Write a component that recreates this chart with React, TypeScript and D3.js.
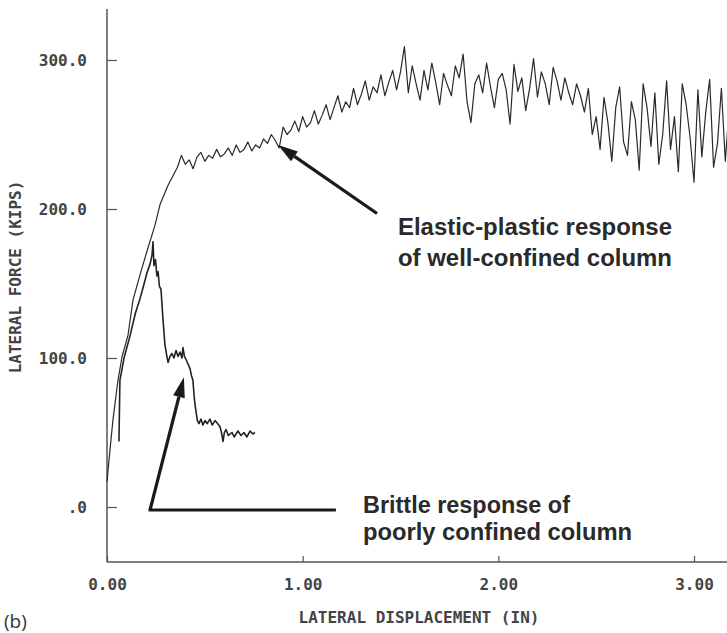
import React, { useEffect, useRef } from 'react';
import * as d3 from 'd3';

// axis ticks
const xTicks = [0, 1, 2, 3];
const xTickLabels = ['0.00', '1.00', '2.00', '3.00'];
const yTicks = [0, 100, 200, 300];
const yTickLabels = ['.0', '100.0', '200.0', '300.0'];

// well-confined column: initial loading branch [displacement (in), force (kips)]
const elasticRise: [number, number][] = [
  [0.0, 17], [0.015, 38], [0.03, 58], [0.056, 85], [0.077, 101], [0.107, 115],
  [0.133, 139], [0.169, 156], [0.205, 172], [0.245, 189], [0.271, 203], [0.312, 216],
];

// well-confined column: post-yield record, sampled every 0.02 in starting at 0.36 in
const elasticStart = 0.36;
const elasticStep = 0.02;
const elasticForce = [
  228, 236, 230, 233, 227, 235, 238, 232, 236, 234, 240, 235, 237, 241, 236, 243, 238, 240, 245, 239,
  243, 241, 247, 244, 250, 246, 241,
  255, 250, 253, 259, 252, 262, 255, 258, 266, 257, 263, 270, 260, 268, 276, 265, 272, 268, 281, 270,
  277, 286, 273, 282, 278, 290, 276, 285, 293, 280,
  292, 309, 278, 296, 284, 273, 293, 280, 298, 285, 270, 291, 283, 276, 296, 288, 304, 272, 258, 284,
  290, 278, 298, 282, 268, 287, 291, 280, 257, 297, 279, 288, 266, 281, 301, 275, 292, 284, 270, 295,
  286, 273, 288, 278, 270, 284,
  276, 265, 281, 250, 262, 240, 275, 258, 232, 268, 282, 245, 236, 272, 260, 226, 284, 268, 242, 278,
  230, 250, 286, 240, 262, 225, 284, 270, 248, 218, 280, 235, 265, 287, 228, 244, 281, 232, 268,
];

// poorly confined column [displacement (in), force (kips)]
const brittle: [number, number][] = [
  [0.061, 44], [0.066, 85], [0.087, 100], [0.118, 115], [0.145, 130], [0.169, 140], [0.19, 150],
  [0.204, 157], [0.22, 163], [0.23, 169], [0.235, 178], [0.24, 162], [0.248, 166], [0.255, 155],
  [0.261, 158], [0.268, 148], [0.276, 146], [0.286, 126], [0.296, 109], [0.305, 102], [0.312, 97],
  [0.322, 101], [0.332, 103], [0.342, 100], [0.353, 105], [0.363, 101], [0.373, 104], [0.383, 100],
  [0.388, 107], [0.396, 101], [0.404, 99], [0.414, 96], [0.424, 93], [0.432, 88], [0.439, 85],
  [0.447, 72], [0.455, 64], [0.462, 58], [0.47, 56], [0.48, 59], [0.49, 55], [0.501, 58], [0.512, 56],
  [0.526, 59], [0.538, 55], [0.552, 58], [0.565, 56], [0.577, 54], [0.585, 50], [0.593, 44],
  [0.6, 50], [0.608, 52], [0.62, 48], [0.639, 50], [0.65, 47], [0.669, 51], [0.685, 48], [0.7, 50],
  [0.715, 47], [0.731, 51], [0.745, 49], [0.756, 50],
];

export default function App() {
  const svgRef = useRef<SVGSVGElement>(null);

  useEffect(() => {
    if (!svgRef.current) return;
    const svg = d3.select(svgRef.current);
    svg.selectAll('*').remove();

    const width = 727, height = 633;
    const x = d3.scaleLinear().domain([0, 3]).range([107, 694]);
    const y = d3.scaleLinear().domain([0, 300]).range([507, 60]);
    const axisY = 562;
    const mono = '"DejaVu Sans Mono", monospace';
    const ink = '#444';

    svg.append('rect').attr('width', width).attr('height', height).attr('fill', '#fff');

    // axes lines
    svg.append('line').attr('x1', x(0)).attr('x2', x(0)).attr('y1', 9).attr('y2', axisY)
      .attr('stroke', '#555').attr('stroke-width', 1.5);
    svg.append('line').attr('x1', x(0)).attr('x2', width).attr('y1', axisY).attr('y2', axisY)
      .attr('stroke', '#555').attr('stroke-width', 1.5);

    // y ticks
    const yAxis = svg.append('g')
      .attr('transform', `translate(${x(0)},0)`)
      .call(d3.axisLeft(y).tickValues(yTicks).tickSize(-10).tickPadding(20)
        .tickFormat((_d, i) => yTickLabels[i]));
    yAxis.select('.domain').remove();
    yAxis.selectAll('line').attr('stroke', '#555').attr('stroke-width', 1.2);
    yAxis.selectAll('text').attr('font-family', mono).attr('font-size', 16)
      .attr('font-weight', 'bold').attr('fill', ink);

    // x ticks
    const xAxis = svg.append('g')
      .attr('transform', `translate(0,${axisY})`)
      .call(d3.axisBottom(x).tickValues(xTicks).tickSize(-6).tickPadding(17)
        .tickFormat((_d, i) => xTickLabels[i]));
    xAxis.select('.domain').remove();
    xAxis.selectAll('line').attr('stroke', '#555').attr('stroke-width', 1.2);
    xAxis.selectAll('text').attr('font-family', mono).attr('font-size', 16)
      .attr('font-weight', 'bold').attr('fill', ink);

    // axis titles
    svg.append('text')
      .attr('x', 419).attr('y', 623)
      .attr('text-anchor', 'middle')
      .attr('font-family', mono).attr('font-size', 16).attr('font-weight', 'bold').attr('fill', ink)
      .text('LATERAL DISPLACEMENT (IN)');
    svg.append('text')
      .attr('transform', 'translate(21,277) rotate(-90)')
      .attr('text-anchor', 'middle')
      .attr('font-family', mono).attr('font-size', 16).attr('font-weight', 'bold').attr('fill', ink)
      .text('LATERAL FORCE (KIPS)');

    // curves
    const elasticPts: [number, number][] = elasticRise.concat(
      elasticForce.map((f, i) => [elasticStart + i * elasticStep, f] as [number, number])
    );
    const line = d3.line<[number, number]>().x((d) => x(d[0])).y((d) => y(d[1]));

    svg.append('path').attr('d', line(elasticPts))
      .attr('fill', 'none').attr('stroke', '#2a2a2a').attr('stroke-width', 1.2)
      .attr('stroke-linejoin', 'round');
    svg.append('path').attr('d', line(brittle))
      .attr('fill', 'none').attr('stroke', '#222').attr('stroke-width', 1.6)
      .attr('stroke-linejoin', 'round');

    // arrows
    const arrow = (x0: number, y0: number, x1: number, y1: number) => {
      const ang = Math.atan2(y1 - y0, x1 - x0);
      const len = 20, half = 6;
      const bx = x1 - len * Math.cos(ang), by = y1 - len * Math.sin(ang);
      svg.append('line').attr('x1', x0).attr('y1', y0).attr('x2', bx).attr('y2', by)
        .attr('stroke', '#1a1a1a').attr('stroke-width', 3.2);
      const px = -Math.sin(ang) * half, py = Math.cos(ang) * half;
      svg.append('path')
        .attr('d', `M${x1},${y1}L${bx + px},${by + py}L${bx - px},${by - py}Z`)
        .attr('fill', '#1a1a1a');
    };
    arrow(x(1.38), y(197), x(0.874), y(243));
    svg.append('line').attr('x1', x(0.22) - 1.5).attr('x2', x(1.17)).attr('y1', y(-2)).attr('y2', y(-2))
      .attr('stroke', '#1a1a1a').attr('stroke-width', 3.2);
    arrow(x(0.22), y(-2), x(0.393), y(87));

    // annotations
    const note = (tx: number, ty: number, s: string, w: number) => {
      svg.append('text')
        .attr('x', tx).attr('y', ty)
        .attr('font-family', '"Liberation Sans", Arial, sans-serif')
        .attr('font-weight', 'bold').attr('font-size', 23).attr('fill', '#2a2a2a')
        .attr('textLength', w).attr('lengthAdjust', 'spacingAndGlyphs')
        .text(s);
    };
    note(398, 235, 'Elastic-plastic response', 274);
    note(398, 266, 'of well-confined column', 274);
    note(363, 513, 'Brittle response of', 207);
    note(363, 540, 'poorly confined column', 269);

    svg.append('text')
      .attr('x', 4).attr('y', 628)
      .attr('font-family', '"Open Sans", "Liberation Sans", sans-serif')
      .attr('font-size', 19).attr('fill', '#333')
      .text('(b)');
  }, []);

  return (
    <div style={{ position: 'absolute', left: 0, top: 0 }}>
      <svg ref={svgRef} width={727} height={633} style={{ display: 'block' }} />
    </div>
  );
}
